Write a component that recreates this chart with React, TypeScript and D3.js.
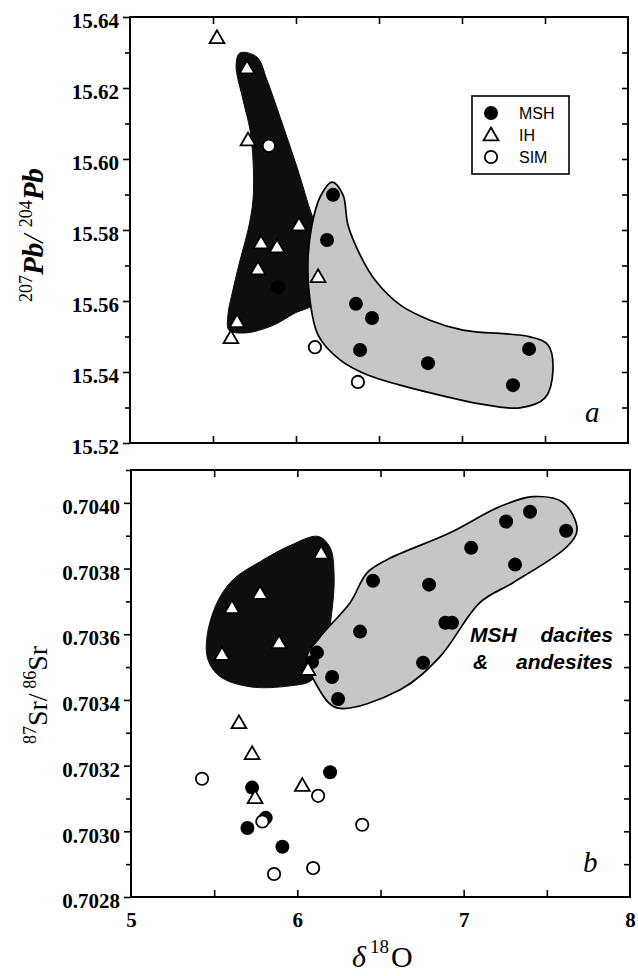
import { useEffect, useRef } from 'react';
import * as d3 from 'd3';

type Pt = [number, number];

const W = 638;
const H = 976;

// axis ticks
const oTicks = [5, 6, 7, 8];
const oMinor = [5.5, 6, 6.5, 7, 7.5];
const pbTicks = [15.52, 15.54, 15.56, 15.58, 15.6, 15.62, 15.64];
const pbMinor = [15.53, 15.55, 15.57, 15.59, 15.61, 15.63];
const srTicks = [0.7028, 0.703, 0.7032, 0.7034, 0.7036, 0.7038, 0.704];
const srMinor = [0.7029, 0.7031, 0.7033, 0.7035, 0.7037, 0.7039, 0.7041];

// panel a: 207Pb/204Pb vs d18O
const pbMSH: Pt[] = [
  [6.223, 15.5899], [6.187, 15.5772], [6.361, 15.5592], [6.458, 15.5552],
  [6.386, 15.5462], [6.795, 15.5425], [7.404, 15.5465], [7.307, 15.5363],
  [5.892, 15.5639],
];
const pbIH: Pt[] = [
  [5.524, 15.6341], [5.705, 15.6256], [5.711, 15.6053], [6.018, 15.5814],
  [5.789, 15.5763], [5.886, 15.5752], [5.771, 15.569], [6.133, 15.5668],
  [5.645, 15.5541], [5.608, 15.5496],
];
const pbSIM: Pt[] = [[5.837, 15.6037], [6.114, 15.547], [6.373, 15.5372]];

const pbBlack: Pt[] = [
  [5.663, 15.6299], [5.639, 15.6265], [5.681, 15.6166], [5.723, 15.6082],
  [5.741, 15.5997], [5.741, 15.5885], [5.711, 15.58], [5.663, 15.5715],
  [5.62, 15.5631], [5.59, 15.5561], [5.596, 15.5518], [5.693, 15.551],
  [5.855, 15.553], [5.994, 15.5566], [6.114, 15.5594], [6.157, 15.5687],
  [6.157, 15.5772], [6.096, 15.5842], [6.006, 15.5977], [5.904, 15.6118],
  [5.825, 15.6223], [5.765, 15.6287],
];
const pbGray: Pt[] = [
  [6.217, 15.5935], [6.283, 15.5899], [6.313, 15.5814], [6.386, 15.573],
  [6.476, 15.5659], [6.627, 15.5589], [6.807, 15.5546], [7.006, 15.5518],
  [7.41, 15.5499], [7.518, 15.5476], [7.548, 15.5406], [7.5, 15.5327],
  [7.349, 15.5299], [7.108, 15.531], [6.91, 15.533], [6.627, 15.5363],
  [6.428, 15.5392], [6.265, 15.5434], [6.133, 15.5504], [6.084, 15.5603],
  [6.072, 15.5715], [6.096, 15.5814], [6.145, 15.5893],
];

// panel b: 87Sr/86Sr vs d18O
const srMSH: Pt[] = [
  [7.399, 0.703973], [7.255, 0.703943], [7.616, 0.703915], [7.045, 0.703863],
  [7.309, 0.703812], [6.455, 0.703763], [6.792, 0.703751], [6.89, 0.703635],
  [6.93, 0.703635], [6.377, 0.703608], [6.756, 0.703513], [6.118, 0.703544],
  [6.088, 0.703515], [6.209, 0.70347], [6.245, 0.703403],
  [5.728, 0.703133], [5.81, 0.703041], [5.7, 0.70301], [5.91, 0.702953],
  [6.197, 0.70318],
];
const srIH: Pt[] = [
  [5.776, 0.703724], [5.607, 0.70368], [5.89, 0.703574], [5.547, 0.703538],
  [6.143, 0.703846], [6.064, 0.703492], [5.649, 0.70333], [5.728, 0.703236],
  [5.746, 0.703102], [6.03, 0.703139],
];
const srSIM: Pt[] = [
  [5.427, 0.70316], [5.79, 0.70303], [5.86, 0.70287], [6.095, 0.702888],
  [6.125, 0.703108], [6.39, 0.70302],
];

const srBlack: Pt[] = [
  [6.124, 0.703898], [6.197, 0.703864], [6.221, 0.703782], [6.209, 0.703675],
  [6.167, 0.703553], [6.088, 0.703461], [5.956, 0.703443], [5.716, 0.70344],
  [5.535, 0.703471], [5.463, 0.703522], [5.457, 0.703593], [5.517, 0.703696],
  [5.613, 0.703766], [5.776, 0.703821], [5.956, 0.70387],
];
const srGray: Pt[] = [
  [6.239, 0.703376], [6.618, 0.703431], [6.858, 0.703532], [7.099, 0.703697],
  [7.297, 0.703757], [7.622, 0.703867], [7.682, 0.703919], [7.598, 0.704001],
  [7.417, 0.704019], [7.219, 0.703989], [6.918, 0.703909], [6.539, 0.703827],
  [6.419, 0.703787], [6.317, 0.703696], [6.137, 0.703592], [6.058, 0.703532],
  [6.124, 0.703438],
];

const legendItems = ['MSH', 'IH', 'SIM'];

const SERIF = '"Liberation Serif", "Times New Roman", serif';
const SANS = '"Liberation Sans", Arial, sans-serif';

type Sel = d3.Selection<SVGGElement, unknown, null, undefined>;

function drawSymbol(g: Sel, kind: string, cx: number, cy: number) {
  if (kind === 'MSH') {
    g.append('circle').attr('cx', cx).attr('cy', cy).attr('r', 7).attr('fill', '#000');
  } else if (kind === 'IH') {
    g.append('path')
      .attr('d', d3.symbol(d3.symbolTriangle, 95)() as string)
      .attr('transform', `translate(${cx},${cy + 1})`)
      .attr('fill', '#fff')
      .attr('stroke', '#000')
      .attr('stroke-width', 1.8);
  } else {
    g.append('circle').attr('cx', cx).attr('cy', cy).attr('r', 6.2)
      .attr('fill', '#fff').attr('stroke', '#000').attr('stroke-width', 1.8);
  }
}

interface PanelCfg {
  x: d3.ScaleLinear<number, number>;
  y: d3.ScaleLinear<number, number>;
  major: number[];
  minor: number[];
  fmt: (v: number) => string;
  black: Pt[];
  gray: Pt[];
  msh: Pt[];
  ih: Pt[];
  sim: Pt[];
  xLabels: boolean;
}

function drawPanel(root: Sel, c: PanelCfg) {
  const [x0, x1] = c.x.range();
  const [yb, yt] = c.y.range();
  const g = root.append('g');

  const hull = d3.line<Pt>()
    .x((d) => c.x(d[0]))
    .y((d) => c.y(d[1]))
    .curve(d3.curveCatmullRomClosed.alpha(0.5));

  g.append('path').attr('d', hull(c.black)).attr('fill', '#0e0e0e').attr('stroke', '#0e0e0e').attr('stroke-width', 1);
  g.append('path').attr('d', hull(c.gray)).attr('fill', '#c6c6c6').attr('stroke', '#000').attr('stroke-width', 1.7);

  c.msh.forEach((d) => drawSymbol(g, 'MSH', c.x(d[0]), c.y(d[1])));
  c.ih.forEach((d) => drawSymbol(g, 'IH', c.x(d[0]), c.y(d[1])));
  c.sim.forEach((d) => drawSymbol(g, 'SIM', c.x(d[0]), c.y(d[1])));

  const styleAxis = (a: Sel) => {
    a.select('.domain').remove();
    a.selectAll('.tick line').attr('stroke', '#000').attr('stroke-width', 1.6);
    a.selectAll('.tick text')
      .attr('fill', '#000')
      .attr('font-family', SERIF)
      .attr('font-weight', 'bold')
      .attr('font-size', 21);
  };

  // left axis, ticks outward
  g.append('g')
    .attr('transform', `translate(${x0},0)`)
    .call(d3.axisLeft(c.y).tickValues(c.major).tickSize(7).tickPadding(4).tickFormat((v) => c.fmt(+v)))
    .call(styleAxis)
    .call((a) => a.selectAll('.tick text').attr('transform', 'translate(0,4)'));
  g.append('g')
    .attr('transform', `translate(${x0},0)`)
    .call(d3.axisLeft(c.y).tickValues(c.minor.filter((v) => c.y(v) >= yt)).tickSize(5).tickFormat(() => ''))
    .call(styleAxis);
  // right axis, ticks inward
  g.append('g')
    .attr('transform', `translate(${x1},0)`)
    .call(d3.axisLeft(c.y).tickValues([...c.major, ...c.minor].filter((v) => c.y(v) > yt + 2 && c.y(v) < yb - 2)).tickSize(6).tickFormat(() => ''))
    .call(styleAxis);
  // top and bottom, ticks inward
  g.append('g')
    .attr('transform', `translate(0,${yt})`)
    .call(d3.axisBottom(c.x).tickValues(oMinor).tickSize(7).tickFormat(() => ''))
    .call(styleAxis);
  g.append('g')
    .attr('transform', `translate(0,${yb})`)
    .call(d3.axisTop(c.x).tickValues(oMinor).tickSize(7).tickFormat(() => ''))
    .call(styleAxis);
  if (c.xLabels) {
    g.append('g')
      .attr('transform', `translate(0,${yb})`)
      .call(d3.axisBottom(c.x).tickValues(oTicks).tickSize(0).tickPadding(15).tickFormat((v) => d3.format('d')(+v)))
      .call(styleAxis);
  }

  g.append('rect')
    .attr('x', x0).attr('y', yt)
    .attr('width', x1 - x0).attr('height', yb - yt)
    .attr('fill', 'none').attr('stroke', '#000').attr('stroke-width', 2);
}

export default function App() {
  const svgRef = useRef<SVGSVGElement>(null);

  useEffect(() => {
    if (!svgRef.current) return;
    const svg = d3.select(svgRef.current);
    svg.selectAll('*').remove();
    const root = svg.append('g') as unknown as Sel;

    const xTop = d3.scaleLinear().domain([5, 8]).range([130, 628]);
    const xBot = d3.scaleLinear().domain([5, 8]).range([131, 630]);
    const yPb = d3.scaleLinear().domain([15.52, 15.64]).range([443, 17]);
    const ySr = d3.scaleLinear().domain([0.7028, 0.7041]).range([897, 470]);

    drawPanel(root, {
      x: xTop, y: yPb, major: pbTicks, minor: pbMinor, fmt: d3.format('.2f'),
      black: pbBlack, gray: pbGray, msh: pbMSH, ih: pbIH, sim: pbSIM, xLabels: false,
    });
    drawPanel(root, {
      x: xBot, y: ySr, major: srTicks, minor: srMinor, fmt: d3.format('.4f'),
      black: srBlack, gray: srGray, msh: srMSH, ih: srIH, sim: srSIM, xLabels: true,
    });

    // legend
    const lg = root.append('g');
    lg.append('rect').attr('x', 472).attr('y', 96).attr('width', 97).attr('height', 78)
      .attr('fill', '#fff').attr('stroke', '#000').attr('stroke-width', 1.6);
    legendItems.forEach((name, i) => {
      const cy = 113 + i * 22;
      drawSymbol(lg, name, 491, cy);
      lg.append('text').attr('x', 519).attr('y', cy + 6)
        .attr('font-family', SANS).attr('font-size', 16).attr('fill', '#000')
        .text(name);
    });

    // panel letters
    root.append('text').attr('x', 585).attr('y', 422)
      .attr('font-family', SERIF).attr('font-style', 'italic').attr('font-size', 29).text('a');
    root.append('text').attr('x', 583).attr('y', 872)
      .attr('font-family', SERIF).attr('font-style', 'italic').attr('font-size', 29).text('b');

    // annotation
    const ann = root.append('g')
      .attr('font-family', SANS).attr('font-style', 'italic').attr('font-weight', 'bold').attr('font-size', 21);
    ann.append('text').attr('x', 470).attr('y', 642)
      .attr('word-spacing', 18).text('MSH dacites');
    ann.append('text').attr('x', 473).attr('y', 669)
      .attr('word-spacing', 22).text('& andesites');

    // y titles
    const t1 = root.append('text')
      .attr('transform', 'translate(43,235) rotate(-90)')
      .attr('text-anchor', 'middle')
      .attr('font-family', SERIF).attr('font-weight', 'bold').attr('fill', '#000');
    t1.append('tspan').attr('font-size', 18).attr('dy', -11).attr('font-weight', 'normal').text('207');
    t1.append('tspan').attr('font-size', 29).attr('dy', 11).attr('font-style', 'italic').text('Pb');
    t1.append('tspan').attr('font-size', 29).attr('font-style', 'italic').attr('font-weight', 'normal').text('/ ');
    t1.append('tspan').attr('font-size', 18).attr('dy', -11).attr('font-weight', 'normal').text('204');
    t1.append('tspan').attr('font-size', 29).attr('dy', 11).attr('font-style', 'italic').text('Pb');

    const t2 = root.append('text')
      .attr('transform', 'translate(47,695) rotate(-90)')
      .attr('text-anchor', 'middle')
      .attr('font-family', SERIF).attr('fill', '#000');
    t2.append('tspan').attr('font-size', 18).attr('dy', -11).text('87');
    t2.append('tspan').attr('font-size', 28).attr('dy', 11).text('Sr/');
    t2.append('tspan').attr('font-size', 18).attr('dy', -11).text(' 86');
    t2.append('tspan').attr('font-size', 28).attr('dy', 11).text('Sr');

    // x title
    const t3 = root.append('text').attr('y', 967).attr('font-family', SERIF).attr('fill', '#000');
    t3.append('tspan').attr('x', 352).attr('font-size', 30).attr('font-style', 'italic').text('δ');
    t3.append('tspan').attr('x', 370).attr('dy', -14).attr('font-size', 19).text('18');
    t3.append('tspan').attr('x', 391).attr('dy', 14).attr('font-size', 30).text('O');
  }, []);

  return (
    <svg
      ref={svgRef}
      width={W}
      height={H}
      style={{ position: 'absolute', left: 0, top: 0, background: '#fff', display: 'block' }}
    />
  );
}
